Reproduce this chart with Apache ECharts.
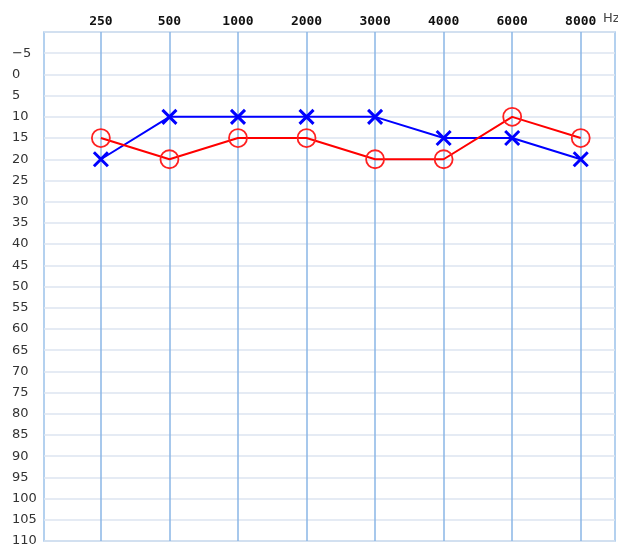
<!DOCTYPE html>
<html>
<head>
<meta charset="utf-8">
<script src="https://cdn.jsdelivr.net/npm/echarts@6/dist/echarts.min.js"></script>
<style>
  html, body { margin: 0; padding: 0; background: #fff; }
  #chart { width: 618px; height: 548px; }
</style>
</head>
<body>
<div id="chart"></div>
<script>
const freqs = ['250', '500', '1000', '2000', '3000', '4000', '6000', '8000'];
const rightEar = [15, 20, 15, 15, 20, 20, 10, 15];   // red circles
const leftEar = [20, 10, 10, 10, 10, 15, 15, 20];    // blue crosses

const freqIdx = freqs.map((f, i) => i);

const chart = echarts.init(document.getElementById('chart'));

const option = {
  animation: false,
  grid: {
    left: 44,
    right: 3,
    top: 32,
    bottom: 7,
    show: true,
    borderColor: '#9cc2ea',
    borderWidth: 1.5,
    backgroundColor: '#fff'
  },
  graphic: [
    {
      type: 'text',
      left: 603,
      top: 12,
      style: { text: 'Hz', fontSize: 13, fill: '#444', fontFamily: 'DejaVu Sans' }
    }
  ],
  xAxis: {
    type: 'value',
    position: 'top',
    min: -0.83,
    max: 7.5,
    axisLine: { show: false },
    axisTick: { show: false, customValues: freqIdx },
    axisLabel: {
      customValues: freqIdx,
      margin: 4,
      color: '#111',
      fontFamily: 'DejaVu Sans Mono',
      fontWeight: 'bold',
      fontSize: 13,
      formatter: v => freqs[Math.round(v)] || ''
    },
    splitLine: { show: true, lineStyle: { color: '#8ab6e6', width: 1.5 } }
  },
  yAxis: {
    type: 'value',
    inverse: true,
    min: -10,
    max: 110,
    interval: 5,
    axisLine: { show: false },
    axisTick: { show: false },
    axisLabel: {
      align: 'left',
      margin: 32,
      color: '#333',
      fontFamily: 'DejaVu Sans',
      fontSize: 13,
      formatter: v => (v === -10 ? '' : String(v).replace('-', '\u2212'))
    },
    splitLine: { show: true, lineStyle: { color: '#dce5f0', width: 1.5 } }
  },
  series: [
    {
      name: 'Left',
      type: 'line',
      data: leftEar.map((v, i) => [i, v]),
      symbol: 'path://M0,0L10,10M10,0L0,10',
      symbolSize: 14,
      lineStyle: { color: '#0000ff', width: 2 },
      itemStyle: { color: 'rgba(0,0,0,0)', borderColor: '#0000ff', borderWidth: 3 },
      z: 3
    },
    {
      name: 'Right',
      type: 'line',
      data: rightEar.map((v, i) => [i, v]),
      symbol: 'circle',
      symbolSize: 18,
      lineStyle: { color: '#ff0000', width: 2 },
      itemStyle: { color: 'rgba(0,0,0,0)', borderColor: '#ff2020', borderWidth: 1.8 },
      z: 4
    }
  ]
};

chart.setOption(option);
</script>
</body>
</html>
